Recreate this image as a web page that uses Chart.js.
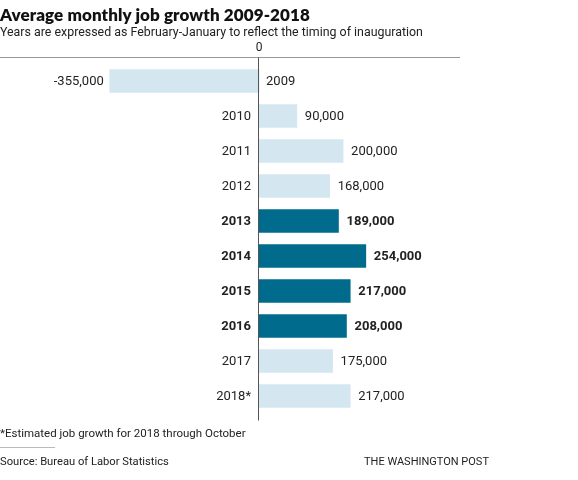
<!DOCTYPE html>
<html>
<head>
<meta charset="utf-8">
<script src="https://cdn.jsdelivr.net/npm/chart.js@4/dist/chart.umd.min.js"></script>
<style>
    body { margin: 0; background: #fff; font-family: Roboto, "Liberation Sans", sans-serif; color: #222; }
    #wrap { position: relative; width: 578px; height: 480px; }
    #chart { position: absolute; left: 0; top: 0; }
    .title { position: absolute; left: 0; top: 4px; font: 800 17px Lato, Roboto, sans-serif; color: #111; letter-spacing: 0.1px; }
    .subtitle { position: absolute; left: 0; top: 24px; font-size: 12.4px; color: #222; }
    .note { position: absolute; left: 0; top: 426px; font-size: 11.5px; color: #222; }
    .rule { position: absolute; left: 0; top: 447px; width: 55px; border-top: 1px solid #bbb; }
    .source { position: absolute; left: 0; top: 455px; font-size: 11.2px; color: #222; }
    .brand { position: absolute; left: 364px; top: 455px; font-size: 11px; color: #222; }
</style>
</head>
<body>
<div id="wrap">
    <canvas id="chart" width="578" height="480"></canvas>
    <div class="title">Average monthly job growth 2009-2018</div>
    <div class="subtitle">Years are expressed as February-January to reflect the timing of inauguration</div>
    <div class="note">*Estimated job growth for 2018 through October</div>
    <div class="rule"></div>
    <div class="source">Source: Bureau of Labor Statistics</div>
    <div class="brand">THE WASHINGTON POST</div>
</div>
<script>
// Data
const years = ['2009', '2010', '2011', '2012', '2013', '2014', '2015', '2016', '2017', '2018*'];
const jobGrowth = [-355000, 90000, 200000, 168000, 189000, 254000, 217000, 208000, 175000, 217000];
const highlighted = ['2013', '2014', '2015', '2016'];

const lightBlue = '#d4e6f0';
const darkTeal = '#006b8c';
const textColor = '#222';

function fmt(v) {
    return v.toLocaleString('en-US');
}

// Draws year and value labels beside each bar, plus the zero line and top rule
const barLabels = {
    id: 'barLabels',
    afterDatasetsDraw(chart) {
        const ctx = chart.ctx;
        const xScale = chart.scales.x;
        const area = chart.chartArea;
        const zeroX = xScale.getPixelForValue(0);
        const meta = chart.getDatasetMeta(0);

        ctx.save();
        // top rule
        ctx.strokeStyle = '#999';
        ctx.lineWidth = 1;
        ctx.beginPath();
        ctx.moveTo(0, area.top - 6);
        ctx.lineTo(area.right, area.top - 6);
        ctx.stroke();

        // zero line
        ctx.strokeStyle = '#555';
        ctx.beginPath();
        ctx.moveTo(zeroX - 0.5, area.top - 6);
        ctx.lineTo(zeroX - 0.5, area.bottom + 7);
        ctx.stroke();

        // "0" tick label
        ctx.fillStyle = textColor;
        ctx.font = '12px Roboto, sans-serif';
        ctx.textAlign = 'center';
        ctx.textBaseline = 'middle';
        ctx.fillText('0', zeroX, area.top - 16);

        meta.data.forEach((bar, i) => {
            const value = jobGrowth[i];
            const bold = highlighted.includes(years[i]);
            ctx.font = (bold ? 'bold ' : '') + '13px Roboto, sans-serif';
            ctx.fillStyle = textColor;
            ctx.textBaseline = 'middle';
            const y = bar.y + 1;
            if (value >= 0) {
                ctx.textAlign = 'right';
                ctx.fillText(years[i], zeroX - 8, y);
                ctx.textAlign = 'left';
                ctx.fillText(fmt(value), bar.x + 8, y);
            } else {
                ctx.textAlign = 'left';
                ctx.fillText(years[i], zeroX + 7, y);
                ctx.textAlign = 'right';
                ctx.fillText(fmt(value), bar.x - 6, y);
            }
        });
        ctx.restore();
    }
};

new Chart(document.getElementById('chart'), {
    type: 'bar',
    data: {
        labels: years,
        datasets: [{
            data: jobGrowth,
            backgroundColor: years.map(y => highlighted.includes(y) ? darkTeal : lightBlue),
            borderWidth: 0,
            barThickness: 23,
            categoryPercentage: 1
        }]
    },
    options: {
        indexAxis: 'y',
        responsive: false,
        animation: false,
        layout: {
            padding: { top: 63.5, bottom: 66.5, left: 0, right: 118 }
        },
        scales: {
            x: {
                display: false,
                min: -616000,
                max: 478000
            },
            y: {
                display: false
            }
        },
        plugins: {
            legend: { display: false },
            tooltip: { enabled: false }
        }
    },
    plugins: [barLabels]
});
</script>
</body>
</html>
